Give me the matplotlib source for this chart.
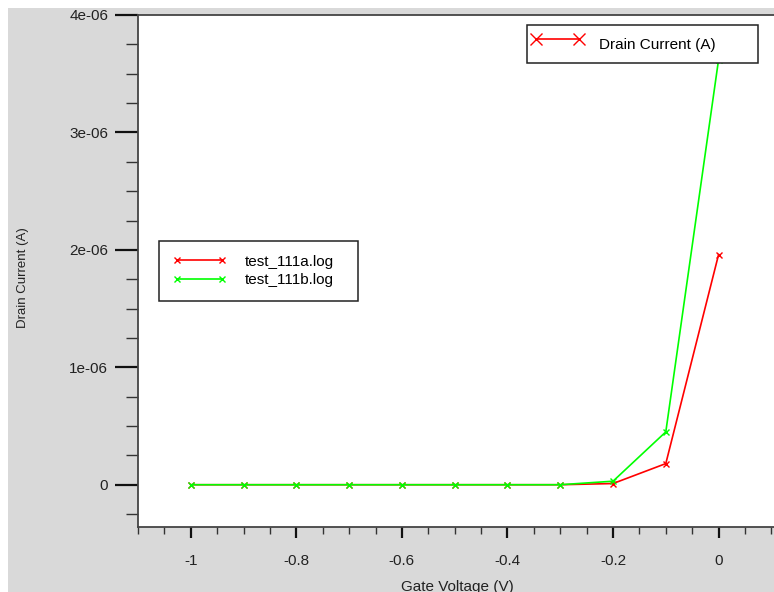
import matplotlib
matplotlib.use('Agg')
import matplotlib.pyplot as plt
from matplotlib.lines import Line2D
from matplotlib.patches import Rectangle
from matplotlib.ticker import MultipleLocator, FuncFormatter

plt.rcParams['font.family'] = ['Liberation Sans', 'DejaVu Sans']

# --- data ---
gate_v = [-1.0, -0.9, -0.8, -0.7, -0.6, -0.5, -0.4, -0.3, -0.2, -0.1, 0.0]
drain_a = [0, 0, 0, 0, 0, 0, 0, 0, 0.01e-6, 0.18e-6, 1.96e-6]   # test_111a.log
drain_b = [0, 0, 0, 0, 0, 0, 0, 0, 0.03e-6, 0.45e-6, 3.62e-6]   # test_111b.log
labels = ['test_111a.log', 'test_111b.log']
colors = ['#ff0000', '#00ff00']

fig = plt.figure(figsize=(7.74, 5.92), dpi=100, facecolor='white')
# grey window background (thin white strip at top/left like the screenshot)
fig.patches.append(Rectangle((8 / 774, 0), 1, 1 - 8 / 592, transform=fig.transFigure,
                             facecolor='#d9d9d9', edgecolor='none', zorder=-10))

ax = fig.add_axes([138 / 774, 1 - 527 / 592, 1 - 138 / 774, (527 - 15) / 592])
ax.set_facecolor('white')

la, = ax.plot(gate_v, drain_a, color=colors[0], lw=1.2, marker='x', ms=5, mew=1)
lb, = ax.plot(gate_v, drain_b, color=colors[1], lw=1.2, marker='x', ms=5, mew=1)

ax.set_xlim(-1.1, 0.105)
ax.set_ylim(-0.36e-6, 4.0e-6)

ax.xaxis.set_major_locator(MultipleLocator(0.2))
ax.xaxis.set_minor_locator(MultipleLocator(0.05))
ax.yaxis.set_major_locator(MultipleLocator(1e-6))
ax.yaxis.set_minor_locator(MultipleLocator(0.25e-6))


def xfmt(v, pos):
    s = f'{v:.1f}'.rstrip('0').rstrip('.')
    return '0' if s in ('-0', '0') else s


def yfmt(v, pos):
    return '0' if abs(v) < 1e-12 else f'{v:.0e}'


ax.xaxis.set_major_formatter(FuncFormatter(xfmt))
ax.yaxis.set_major_formatter(FuncFormatter(yfmt))

ax.tick_params(axis='x', which='major', length=7.6, width=1.6, pad=12, labelsize=11,
               color='#111111', labelcolor='#222222')
ax.tick_params(axis='x', which='minor', length=4.8, width=1.0, color='#333333')
ax.tick_params(axis='y', which='major', length=16.5, width=1.6, pad=5, labelsize=11,
               color='#111111', labelcolor='#222222')
ax.tick_params(axis='y', which='minor', length=8.6, width=1.0, color='#333333')

for side in ['left', 'bottom', 'top']:
    ax.spines[side].set_color('#444444')
    ax.spines[side].set_linewidth(1.3)
ax.spines['right'].set_visible(False)

fig.text(23 / 774, 1 - 278 / 592, 'Drain Current (A)', rotation=90, ha='center',
         va='center', fontsize=9.5, color='#222222')
fig.text(457 / 774, 1.5 / 592, 'Gate Voltage (V)', ha='center', va='baseline',
         fontsize=11, color='#222222')

# top right legend
h1 = Line2D([], [], color='#ff0000', lw=1.2, marker='x', ms=8, mew=1)
leg1 = ax.legend([h1], ['Drain Current (A)'], loc='upper left', mode='expand',
                 bbox_to_anchor=(527 / 774, 1 - 25 / 592, 231 / 774, 0),
                 bbox_transform=fig.transFigure, borderaxespad=0, borderpad=0.3,
                 handlelength=3.4, handleheight=2.55, handletextpad=1.0, numpoints=2,
                 fontsize=11, fancybox=False, framealpha=1, edgecolor='#222222')
leg1.get_frame().set_linewidth(1.1)
leg1.set_zorder(5)
ax.add_artist(leg1)

# series legend
leg2 = ax.legend([la, lb], labels, loc='upper left', mode='expand',
                 bbox_to_anchor=(159 / 774, 1 - 241 / 592, 199 / 774, 0),
                 bbox_transform=fig.transFigure, borderaxespad=0, borderpad=0.9,
                 handlelength=3.5, labelspacing=0.28, handletextpad=1.2, numpoints=2,
                 fontsize=11, fancybox=False, framealpha=1, edgecolor='#222222')
leg2.get_frame().set_linewidth(1.1)

fig.savefig('out.png', dpi=100, facecolor=fig.get_facecolor())
